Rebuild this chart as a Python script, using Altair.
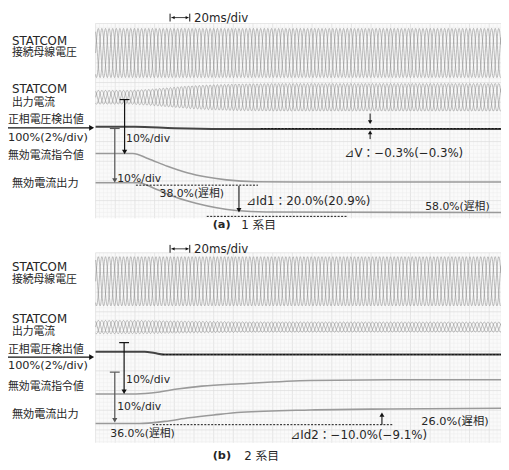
import numpy as np
import pandas as pd
import altair as alt

FONT = "DejaVu Sans, Noto Sans CJK JP"

# ---------------- values ----------------
PERIOD_PX = 11.0          # apparent period of the 3-phase traces on screen (read from lobe spacing)
T_END_MS = 412.0          # visible time span (20 ms/div)

# panel (a) 1系目
a_vbus_t = [0, 412]
a_vbus_env = [1.0, 1.0]
a_icur_t = [0, 35, 55, 75, 95, 115, 145, 185, 412]
a_icur_env = [0.50, 0.50, 0.58, 0.70, 0.82, 0.90, 0.97, 1.0, 1.0]
a_vdet_t = [0, 40, 80, 130, 412]
a_vdet_v = [100.0, 100.0, 99.8, 99.7, 99.7]            # % (2%/div)
a_cmd_t = [0, 38, 53, 73, 93, 113, 133, 163, 203, 412]
a_cmd_v = [38, 38, 41.5, 47, 51.5, 54.5, 56.5, 57.8, 58, 58]   # % lagging
a_out_t = [0, 43, 63, 83, 103, 123, 143, 173, 412]
a_out_v = [38, 38, 43, 48.5, 52.5, 55.5, 57.5, 58.5, 58.9]

# panel (b) 2系目
b_vbus_t = [0, 412]
b_vbus_env = [1.0, 1.0]
b_icur_t = [0, 45, 100, 150, 412]
b_icur_env = [0.48, 0.48, 0.42, 0.38, 0.36]
b_vdet_t = [0, 50, 60, 70, 412]
b_vdet_v = [100.0, 100.0, 99.8, 99.6, 99.6]
b_cmd_t = [0, 41, 63, 83, 108, 148, 218, 300, 412]
b_cmd_v = [36, 36, 34.8, 32.5, 30.5, 28.8, 26.5, 26.0, 26.0]
b_out_t = [0, 45, 70, 95, 120, 148, 218, 300, 412]
b_out_v = [36, 36, 34.5, 32, 30, 28.1, 26.5, 25.8, 25.3]

left_labels = ["STATCOM", "接続母線電圧", "STATCOM", "出力電流",
               "正相電圧検出値", "100%(2%/div)", "無効電流指令値", "無効電流出力"]
scale_label = "10%/div"
time_label = "20ms/div"
a_notes = ["38.0%(遅相)", "⊿Id1：20.0%(20.9%)", "58.0%(遅相)", "⊿V：−0.3%(−0.3%)"]
b_notes = ["36.0%(遅相)", "⊿Id2：−10.0%(−9.1%)", "26.0%(遅相)"]
captions = [("(a)", "1 系目"), ("(b)", "2 系目")]

# ---------------- layout ----------------
X0 = 97.0          # screen x of t = 0
PX_PER_MS = 1.0
PX_PER_PCT = 1.45  # 10 %/div
PX_PER_PCT_V = 7.25  # 2 %/div
XR = 509.0

def tx(t):
    return X0 + np.asarray(t, dtype=float) * PX_PER_MS

tt = np.arange(0, T_END_MS + 1e-9, 0.3)

def wave(center, amp, env_t, env_v, name):
    env = np.interp(tt, env_t, env_v)
    frames = []
    for k in range(3):
        y = center - amp * env * np.sin(2 * np.pi * tt * PX_PER_MS / PERIOD_PX - k * 2 * np.pi / 3)
        frames.append(pd.DataFrame({"x": tx(tt), "y": y, "key": f"{name}{k}"}))
    return pd.concat(frames)

def trace(t, v, zero_y, name):
    return pd.DataFrame({"x": tx(t), "y": zero_y + np.asarray(v) * PX_PER_PCT, "key": name})

def vdet(t, v, level, name):
    return pd.DataFrame({"x": tx(t), "y": level - (np.asarray(v) - 100.0) * PX_PER_PCT_V, "key": name})

waves = pd.concat([
    wave(50, 25, a_vbus_t, a_vbus_env, "av"),
    wave(95, 14, a_icur_t, a_icur_env, "ai"),
    wave(282, 25, b_vbus_t, b_vbus_env, "bv"),
    wave(328.5, 14, b_icur_t, b_icur_env, "bi"),
])
traces = pd.concat([
    trace(a_cmd_t, a_cmd_v, 97.0, "acmd"),
    trace(a_out_t, a_out_v, 126.7, "aout"),
    trace(b_cmd_t, b_cmd_v, 344.3, "bcmd"),
    trace(b_out_t, b_out_v, 374.3, "bout"),
])
vdets = pd.concat([
    vdet(a_vdet_t, a_vdet_v, 125.0, "avd"),
    vdet(b_vdet_t, b_vdet_v, 353.5, "bvd"),
])

panels = [(20.0, 218.0), (253.0, 446.0)]
bg = pd.DataFrame([{"x": X0, "x2": XR, "y": a, "y2": b} for a, b in panels])

grid_rows = []
for (y0, y1) in panels:
    k = 0
    xv = X0
    while xv <= XR:
        major = (k % 5 == 0)
        grid_rows.append({"x": xv, "x2": xv, "y": y0, "y2": y1,
                          "c": "#dcdcdc" if major else "#ececec", "w": 0.7 if major else 0.5})
        xv += 4.0
        k += 1
    k = 0
    yv = y0
    while yv <= y1:
        major = (k % 5 == 0)
        grid_rows.append({"x": X0, "x2": XR, "y": yv, "y2": yv,
                          "c": "#dcdcdc" if major else "#ececec", "w": 0.7 if major else 0.5})
        yv += 4.0
        k += 1
grid = pd.DataFrame(grid_rows)

# solid annotation segments (arrows, caps, time marker)
seg = []
def S(x, y, x2, y2, c="#111111", w=1.0):
    seg.append({"x": x, "y": y, "x2": x2, "y2": y2, "c": c, "w": w})

heads = []
def H(x, y, shape, c="#111111", s=26):
    heads.append({"x": x, "y": y, "shape": shape, "c": c, "s": s})

for ymark in (14.0, 249.0):
    S(172.7, ymark - 4, 172.7, ymark + 4)
    S(192.7, ymark - 4, 192.7, ymark + 4)
    S(174, ymark, 191.5, ymark, w=0.8)
    H(175.8, ymark, "triangle-left", s=12)
    H(190.0, ymark, "triangle-right", s=12)

# left horizontal arrows
S(0, 126.0, 92, 126.0, w=1.2)
H(93.0, 126.0, "triangle-right", s=34)
S(0, 359.0, 92, 359.0, w=1.2)
H(93.0, 359.0, "triangle-right", s=34)

# T-arrows (zero level cap -> trace)
for (x, cap, tip, col) in [(126.5, 97.3, 153.0, "#111111"), (116.5, 126.7, 182.0, "#555555"),
                           (126.0, 344.3, 396.7, "#111111"), (116.5, 374.3, 425.7, "#555555")]:
    S(x - 5, cap, x + 5, cap, c=col, w=1.2)
    S(x, cap, x, tip - 4, c=col, w=1.2)
    H(x, tip - 2.4, "triangle-down", c=col, s=28)

# delta-V arrows (a)
S(376, 111.5, 376, 119, w=1.0)
H(376, 120.3, "triangle-down", s=20)
S(376, 137.5, 376, 132, w=1.0)
H(376, 130.7, "triangle-up", s=20)
# delta-Id1 arrow (a)
S(242.7, 185, 242.7, 208, w=1.1)
H(242.7, 209.8, "triangle-down", s=26)
# delta-Id2 arrow (b)
S(388, 427.7, 388, 419, w=1.1)
H(388, 417.4, "triangle-up", s=26)

segs = pd.DataFrame(seg)
headsdf = pd.DataFrame(heads)

dashes = pd.DataFrame([
    {"x": 138, "x2": 262, "y": 184.3},
    {"x": 210, "x2": 353, "y": 216.0},
    {"x": 265, "x2": XR, "y": 126.8},
    {"x": 165, "x2": XR, "y": 356.5},
    {"x": 155, "x2": 400, "y": 427.7},
])

txt = []
def T(x, y, s, size=12.0, c="#262626", w="normal"):
    txt.append({"x": x, "y": y, "text": s, "size": size, "c": c, "fw": w})

label_x = [12, 12, 12, 12, 8, 8, 8, 12]
label_sz = [12, 11, 12, 11, 11, 11.5, 11, 11.3]
for ys_ in [(37.5, 50.5, 87, 100.5, 118, 136, 155, 183),
            (267.5, 280.5, 320, 333.5, 352, 368, 389, 418)]:
    for lab, xx, yy, ss in zip(left_labels, label_x, ys_, label_sz):
        T(xx, yy, lab, ss)
T(128, 137, scale_label, 11)
T(119, 178, scale_label, 11)
T(128, 382, scale_label, 11)
T(119, 410, scale_label, 11)
T(197, 14, time_label, 12)
T(197, 249, time_label, 12)
T(162, 193, a_notes[0], 11)
T(250, 200, a_notes[1], 12)
T(432, 207, a_notes[2], 11)
T(350, 152, a_notes[3], 12)
T(112, 437, b_notes[0], 11)
T(295, 438, b_notes[1], 12)
T(428, 425, b_notes[2], 11.5)
T(216, 225, captions[0][0], 11.5, w="bold")
T(245, 225, captions[0][1], 12)
T(216, 460, captions[1][0], 11.5, w="bold")
T(248, 460, captions[1][1], 12)
texts = pd.DataFrame(txt)

# ---------------- chart ----------------
xs = alt.Scale(domain=[8, 509], nice=False, zero=False)
ys = alt.Scale(domain=[8, 470], nice=False, zero=False, reverse=True)
X = alt.X("x:Q", scale=xs, axis=None)
Y = alt.Y("y:Q", scale=ys, axis=None)

bg_l = alt.Chart(bg).mark_rect(color="#fafafa").encode(x=X, x2="x2:Q", y=Y, y2="y2:Q")
grid_l = alt.Chart(grid).mark_rule().encode(
    x=X, x2="x2:Q", y=Y, y2="y2:Q",
    color=alt.Color("c:N", scale=None), strokeWidth=alt.StrokeWidth("w:Q", scale=None))
wave_l = alt.Chart(waves).mark_line(strokeWidth=0.55, color="#8a8a8a").encode(x=X, y=Y, detail="key:N")
trace_l = alt.Chart(traces).mark_line(strokeWidth=1.6, color="#9a9a9a", interpolate="monotone").encode(
    x=X, y=Y, detail="key:N")
vdet_l = alt.Chart(vdets).mark_line(strokeWidth=2.0, color="#444444", interpolate="monotone").encode(
    x=X, y=Y, detail="key:N")
dash_l = alt.Chart(dashes).mark_rule(strokeDash=[2, 1.5], color="#111111", strokeWidth=1).encode(
    x=X, x2="x2:Q", y=Y)
seg_l = alt.Chart(segs).mark_rule().encode(
    x=X, x2="x2:Q", y=Y, y2="y2:Q",
    color=alt.Color("c:N", scale=None), strokeWidth=alt.StrokeWidth("w:Q", scale=None))
head_l = alt.Chart(headsdf).mark_point(filled=True, opacity=1, strokeWidth=0).encode(
    x=X, y=Y, shape=alt.Shape("shape:N", scale=None),
    color=alt.Color("c:N", scale=None), size=alt.Size("s:Q", scale=None))
text_norm = alt.Chart(texts[texts.fw == "normal"]).mark_text(align="left", baseline="middle", font=FONT).encode(
    x=X, y=Y, text="text:N",
    size=alt.Size("size:Q", scale=None), color=alt.Color("c:N", scale=None))
text_bold = alt.Chart(texts[texts.fw == "bold"]).mark_text(
    align="left", baseline="middle", font=FONT, fontWeight="bold").encode(
    x=X, y=Y, text="text:N",
    size=alt.Size("size:Q", scale=None), color=alt.Color("c:N", scale=None))

chart = alt.layer(bg_l, grid_l, wave_l, trace_l, vdet_l, dash_l, seg_l, head_l,
                  text_norm, text_bold).properties(
    width=501, height=462, padding=0, autosize="none", background="white"
).configure_view(stroke=None)

chart.save("out.html", embed_options={"renderer": "svg", "actions": False})
